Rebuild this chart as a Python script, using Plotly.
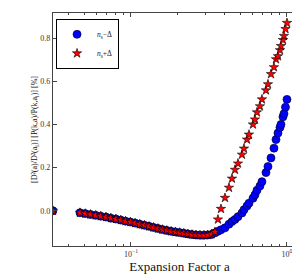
import plotly.graph_objects as go

# expansion factor a (shared by both series)
a_vals = [0.0316, 0.0471, 0.0509, 0.0550, 0.0594, 0.0640, 0.0691, 0.0743, 0.0800, 0.0860,
          0.0923, 0.0991, 0.1062, 0.1139, 0.1219, 0.1305, 0.1394, 0.1490, 0.1590, 0.1697,
          0.1807, 0.1926, 0.2049, 0.2181, 0.2316, 0.2460, 0.2610, 0.2769, 0.2937, 0.3106,
          0.3281, 0.3455, 0.3611, 0.3775, 0.4005, 0.4248, 0.4440, 0.4642, 0.4852, 0.5147,
          0.5302, 0.5541, 0.5707, 0.6054, 0.6235, 0.6421, 0.6712, 0.6913, 0.7334, 0.7554,
          0.7897, 0.8254, 0.8503, 0.8756, 0.9018, 0.9152, 0.9427, 0.9567, 0.9781, 1.0]

minus_vals = [0.0, -0.009, -0.013, -0.017, -0.021, -0.025, -0.029, -0.034, -0.038, -0.043,
              -0.048, -0.052, -0.057, -0.062, -0.067, -0.072, -0.077, -0.082, -0.087, -0.091,
              -0.095, -0.098, -0.101, -0.104, -0.107, -0.110, -0.112, -0.113, -0.113, -0.112,
              -0.110, -0.102, -0.095, -0.088, -0.079, -0.062, -0.050, -0.040, -0.027, -0.010,
              0.005, 0.022, 0.035, 0.058, 0.074, 0.095, 0.115, 0.135, 0.177, 0.205,
              0.245, 0.290, 0.330, 0.360, 0.386, 0.400, 0.435, 0.450, 0.480, 0.516]

plus_vals = [0.0, -0.009, -0.013, -0.017, -0.021, -0.025, -0.029, -0.034, -0.038, -0.043,
             -0.048, -0.052, -0.057, -0.062, -0.067, -0.072, -0.077, -0.082, -0.087, -0.091,
             -0.095, -0.098, -0.101, -0.104, -0.107, -0.110, -0.112, -0.113, -0.113, -0.112,
             -0.108, -0.098, -0.040, 0.009, 0.060, 0.107, 0.149, 0.190, 0.219, 0.260,
             0.288, 0.330, 0.353, 0.400, 0.423, 0.456, 0.484, 0.516, 0.558, 0.586,
             0.633, 0.665, 0.702, 0.716, 0.744, 0.763, 0.791, 0.810, 0.842, 0.870]

y_ticks = [0.0, 0.2, 0.4, 0.6, 0.8]
y_ticklabels = ["0.0", "0.2", "0.4", "0.6", "0.8"]
x_ticks = [0.1, 1.0]
x_ticklabels = ["10<sup>−1</sup>", "10<sup>0</sup>"]
x_minor = [0.04, 0.05, 0.06, 0.07, 0.08, 0.09, 0.2, 0.3, 0.4, 0.5, 0.6, 0.7, 0.8, 0.9]

serif = "Liberation Serif, DejaVu Serif, serif"

fig = go.Figure()
fig.add_trace(go.Scatter(
    x=a_vals, y=minus_vals, mode="markers", name="<i>n</i><sub>s</sub>−Δ",
    marker=dict(symbol="circle", size=8, color="#0000ff",
                line=dict(color="#000033", width=0.7)),
))
fig.add_trace(go.Scatter(
    x=a_vals, y=plus_vals, mode="markers", name="<i>n</i><sub>s</sub>+Δ",
    marker=dict(symbol="star", size=7, color="#ff0000",
                line=dict(color="#000000", width=0.6)),
))

axis_common = dict(showline=True, linecolor="#444444", linewidth=1.2, mirror="allticks",
                   ticks="inside", tickcolor="#444444", showgrid=False, zeroline=False,
                   tickfont=dict(family=serif, size=8, color="#333333"))

fig.update_layout(
    width=300, height=275,
    margin=dict(l=45, r=2, t=5, b=37),
    paper_bgcolor="white", plot_bgcolor="white",
    showlegend=True,
    legend=dict(x=0.012, y=0.975, xanchor="left", yanchor="top",
                bordercolor="black", borderwidth=1, bgcolor="white",
                font=dict(family=serif, size=7.5, color="#222222"),
                tracegroupgap=0, itemwidth=30),
    xaxis=dict(type="log", range=[-1.5, 0.122], tickvals=x_ticks, ticktext=x_ticklabels,
               ticklen=4,
               minor=dict(ticks="inside", ticklen=2, tickvals=x_minor, tickcolor="#444444"),
               title=dict(text="Expansion Factor a", font=dict(family=serif, size=13, color="#111111"),
                          standoff=4),
               **axis_common),
    yaxis=dict(range=[-0.163, 0.916], tickvals=y_ticks, ticktext=y_ticklabels, ticklen=4,
               title=dict(text="[D²(a)/D²(a<sub>i</sub>)] [P(k,a)/P(k,a<sub>i</sub>)] [%]",
                          font=dict(family=serif, size=8, color="#111111"), standoff=1),
               **axis_common),
)

fig.write_html("out.html")
